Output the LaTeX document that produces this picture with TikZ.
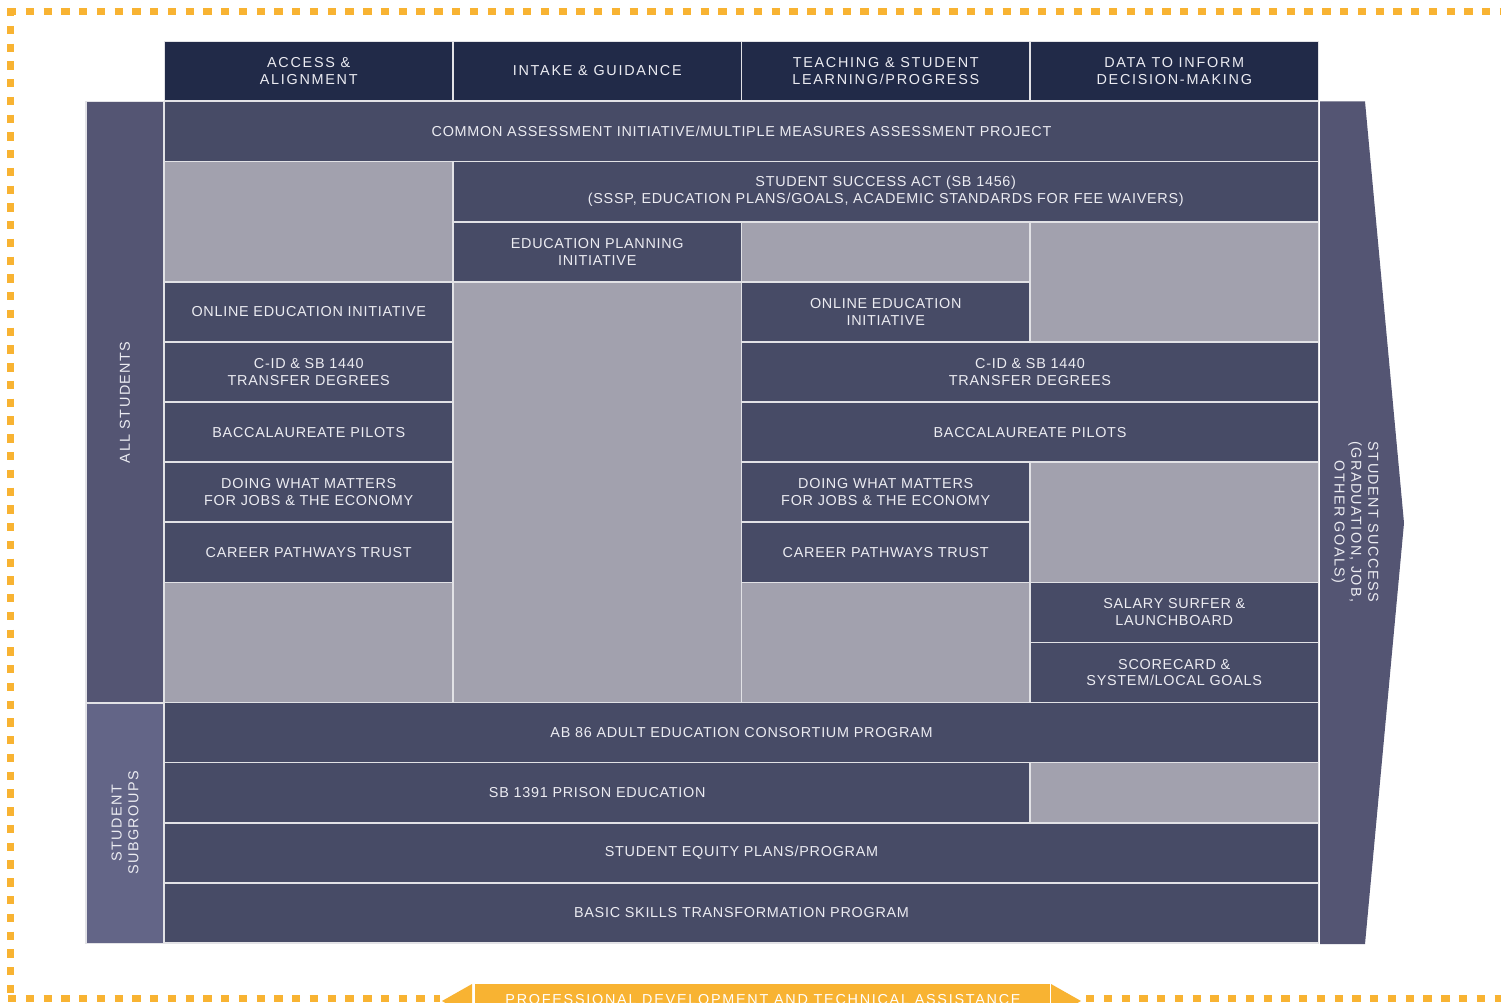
\documentclass[tikz,border=0pt]{standalone}
\usepackage{fontspec}
\setmainfont{Liberation Sans}
\newfontfamily\labfont[LetterSpace=5]{Liberation Sans}
\newfontfamily\headfont[LetterSpace=12]{Liberation Sans}
\newfontfamily\sidefont[LetterSpace=10]{Liberation Sans}
\definecolor{hdr}{HTML}{212A48}
\definecolor{darkcell}{HTML}{474B66}
\definecolor{blankcell}{HTML}{A2A1AE}
\definecolor{band}{HTML}{545573}
\definecolor{subband}{HTML}{636587}
\definecolor{sepline}{HTML}{E2E2E6}
\definecolor{orangeA}{HTML}{F8B332}
\definecolor{txt}{HTML}{ECECF2}
\newcommand\cellnode[7]{%
  \node[#6, minimum width={288.5*(#3-#2)*1pt}, minimum height={60.1*(#5-#4)*1pt}]
    (#1) at ({164.5+288.5*(#2+#3)/2},{101.5+60.1*(#4+#5)/2}) {#7};}
\begin{document}
\begin{tikzpicture}[x=1pt,y=-1pt,
  base/.style={draw=sepline, line width=1.6pt, inner sep=0pt, outer sep=0pt, align=center,
     text=txt, font=\labfont\fontsize{14.4}{16.8}\selectfont},
  dark/.style={base, fill=darkcell},
  blank/.style={base, fill=blankcell},
  head/.style={base, fill=hdr, font=\headfont\fontsize{14.4}{16.8}\selectfont},
  bandbox/.style={base, fill=band},
  subbandbox/.style={base, fill=subband},
  bandtext/.style={text=txt, align=center, inner sep=0pt, font=\sidefont\fontsize{14.4}{16.8}\selectfont},
  dashline/.style={draw=orangeA, line width=7pt, dash pattern=on 8.3pt off 9.46pt}
]
\useasboundingbox (0,0) rectangle (1501,1003);
\clip (0,0) rectangle (1501,1003);
\fill[white] (0,0) rectangle (1501,1003);

% dashed frame
\coordinate (tl) at (8,11.5);
\coordinate (tr) at (1505,11.5);
\coordinate (lt) at (10.5,8);
\coordinate (lb) at (10.5,1001);
\coordinate (bl) at (8,998);
\coordinate (bm1) at (440,998);
\coordinate (bm2) at (1086,998);
\coordinate (br) at (1505,998);
\draw[dashline] (tl) -- (tr);
\draw[dashline] (lt) -- (lb);
\draw[dashline] (bl) -- (bm1);
\draw[dashline] (bm2) -- (br);

% header
\node[head, minimum width=288.5pt, minimum height=59pt] (h1) at (308.75,71) {ACCESS \&\\ALIGNMENT};
\node[head, minimum width=288.5pt, minimum height=59pt] (h2) at (597.25,71) {INTAKE \& GUIDANCE};
\node[head, minimum width=288.5pt, minimum height=59pt] (h3) at (885.75,71) {TEACHING \& STUDENT\\LEARNING/PROGRESS};
\node[head, minimum width=288.5pt, minimum height=59pt] (h4) at (1174.25,71) {DATA TO INFORM\\DECISION-MAKING};

% left bands
\node[bandbox, minimum width=78pt, minimum height=601.4pt] (allband) at (125,402.2) {};
\node[bandtext, rotate=90] (alltext) at (allband.center) {ALL STUDENTS};
\node[subbandbox, minimum width=78pt, minimum height=240.4pt] (subband) at (125,823.1) {};
\node[bandtext, rotate=90] (subtext) at (subband.center) {STUDENT\\SUBGROUPS};

% right arrow
\fill[band] (1320,101.5) -- (1365,101.5) -- (1404,523) -- (1365,944) -- (1320,944) -- cycle;
\node[bandtext, rotate=-90] (succ) at (1355,522) {STUDENT SUCCESS\\(GRADUATION, JOB,\\OTHER GOALS)};

% grid cells
\cellnode{cai}{0}{4}{0}{1}{dark}{COMMON ASSESSMENT INITIATIVE/MULTIPLE MEASURES ASSESSMENT PROJECT}
\cellnode{g1}{0}{1}{1}{3}{blank}{}
\cellnode{ssa}{1}{4}{1}{2}{dark}{STUDENT SUCCESS ACT (SB 1456)\\(SSSP, EDUCATION PLANS/GOALS, ACADEMIC STANDARDS FOR FEE WAIVERS)}
\cellnode{epi}{1}{2}{2}{3}{dark}{EDUCATION PLANNING\\INITIATIVE}
\cellnode{g2}{2}{3}{2}{3}{blank}{}
\cellnode{g3}{3}{4}{2}{4}{blank}{}
\cellnode{oeiA}{0}{1}{3}{4}{dark}{ONLINE EDUCATION INITIATIVE}
\cellnode{g4}{1}{2}{3}{10}{blank}{}
\cellnode{oeiB}{2}{3}{3}{4}{dark}{ONLINE EDUCATION\\INITIATIVE}
\cellnode{cidA}{0}{1}{4}{5}{dark}{C-ID \& SB 1440\\TRANSFER DEGREES}
\cellnode{cidB}{2}{4}{4}{5}{dark}{C-ID \& SB 1440\\TRANSFER DEGREES}
\cellnode{bacA}{0}{1}{5}{6}{dark}{BACCALAUREATE PILOTS}
\cellnode{bacB}{2}{4}{5}{6}{dark}{BACCALAUREATE PILOTS}
\cellnode{dwmA}{0}{1}{6}{7}{dark}{DOING WHAT MATTERS\\FOR JOBS \& THE ECONOMY}
\cellnode{dwmB}{2}{3}{6}{7}{dark}{DOING WHAT MATTERS\\FOR JOBS \& THE ECONOMY}
\cellnode{g5}{3}{4}{6}{8}{blank}{}
\cellnode{cptA}{0}{1}{7}{8}{dark}{CAREER PATHWAYS TRUST}
\cellnode{cptB}{2}{3}{7}{8}{dark}{CAREER PATHWAYS TRUST}
\cellnode{g6}{0}{1}{8}{10}{blank}{}
\cellnode{g7}{2}{3}{8}{10}{blank}{}
\cellnode{ssl}{3}{4}{8}{9}{dark}{SALARY SURFER \&\\LAUNCHBOARD}
\cellnode{sc}{3}{4}{9}{10}{dark}{SCORECARD \&\\SYSTEM/LOCAL GOALS}
\cellnode{ab}{0}{4}{10}{11}{dark}{AB 86 ADULT EDUCATION CONSORTIUM PROGRAM}
\cellnode{prison}{0}{3}{11}{12}{dark}{SB 1391 PRISON EDUCATION}
\cellnode{g8}{3}{4}{11}{12}{blank}{}
\cellnode{equity}{0}{4}{12}{13}{dark}{STUDENT EQUITY PLANS/PROGRAM}
\cellnode{basic}{0}{4}{13}{14}{dark}{BASIC SKILLS TRANSFORMATION PROGRAM}

% bottom banner
\fill[orangeA] (472,984) -- (442,1001) -- (472,1018) -- cycle;
\fill[orangeA] (1051,984) -- (1081,1001) -- (1051,1018) -- cycle;
\fill[orangeA] (474.5,984) rectangle (1049.5,1020);
\node[anchor=base, inner sep=0pt, text=white, font=\headfont\fontsize{14.4}{16.8}\selectfont] (pd) at (763,1004) {PROFESSIONAL DEVELOPMENT AND TECHNICAL ASSISTANCE};
\end{tikzpicture}
\end{document}
